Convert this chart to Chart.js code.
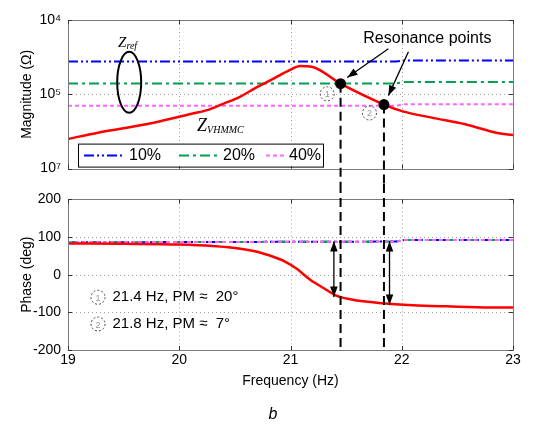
<!DOCTYPE html>
<html>
<head>
<meta charset="utf-8">
<script src="https://cdn.jsdelivr.net/npm/chart.js@4/dist/chart.umd.min.js"></script>
<style>
  html, body { margin: 0; padding: 0; background: #fff; }
  #wrap { position: relative; width: 546px; height: 428px; }
  #mag { position: absolute; left: 0; top: 0; }
  #phase { position: absolute; left: 0; top: 184px; }
</style>
</head>
<body>
<div id="wrap">
  <canvas id="mag" width="546" height="184" style="width:546px;height:184px"></canvas>
  <canvas id="phase" width="546" height="244" style="width:546px;height:244px"></canvas>
</div>
<script>
// ---- data ----
const freqTicks = [19, 20, 21, 22, 23];
const magTicks = [100, 1000, 10000];
const magTickLabels = ['10⁷', '10⁵', '10⁴'];
const phaseTicks = [-200, -100, 0, 100, 200];

// Z_VHMMC magnitude and phase
const freqMag = [19, 19.26, 19.54, 19.83, 20.11, 20.26, 20.4, 20.54, 20.69, 20.83, 20.97, 21.09, 21.19, 21.45, 21.84, 22.01, 22.28, 22.57, 22.86, 23];
const zMag = [251, 302, 357, 435, 547, 617, 750, 915, 1230, 1575, 2040, 2400, 2350, 1388, 728, 589, 482, 395, 302, 283];
const freqPh = [19, 19.5, 20, 20.3, 20.55, 20.7, 20.85, 20.95, 21.05, 21.18, 21.3, 21.4, 21.55, 21.83, 22.1, 22.4, 22.8, 23];
const zPh = [83, 82, 80, 76, 69, 61, 47, 35, 17, -14, -36, -54, -66, -76, -81, -84, -87, -87];

// Z_ref for 10%, 20%, 40%
const refLabels = ['10%', '20%', '40%'];
const freqRef = [19, 21.95, 22.02, 23];
const ref10Mag = [2760, 2760, 2860, 2860];
const ref20Mag = [1400, 1400, 1460, 1460];
const ref40Mag = [700, 700, 736, 736];
const refPh = [86, 88, 92, 92];

// resonance points and phase margins
const resFreq = [21.45, 21.84];
const resMag = [1388, 728];
const pmFreq = [21.39, 21.89];
const pmTop = [89, 89];
const pmBottom = [-59, -80];
const pmNotes = ['21.4 Hz, PM ≈  20°', '21.8 Hz, PM ≈  7°'];

// ---- styles ----
const FONT = '"Liberation Sans", Arial, sans-serif';
const SERIF = '"Liberation Serif", "Times New Roman", serif';
const refStyles = [
  { color: '#0000ff', dash: [10, 3, 2, 3, 2, 3] },
  { color: '#00a050', dash: [10, 4, 3, 4] },
  { color: '#ff66ff', dash: [4, 3] }
];
const pts = (xs, ys) => xs.map((x, i) => ({ x: x, y: ys[i] }));

function arrowHead(ctx, x1, y1, x2, y2, len) {
  const a = Math.atan2(y2 - y1, x2 - x1);
  ctx.beginPath();
  ctx.moveTo(x2, y2);
  ctx.lineTo(x2 - len * Math.cos(a - 0.35), y2 - len * Math.sin(a - 0.35));
  ctx.lineTo(x2 - len * Math.cos(a + 0.35), y2 - len * Math.sin(a + 0.35));
  ctx.closePath();
  ctx.fill();
}
function arrow(ctx, x1, y1, x2, y2, len) {
  ctx.beginPath(); ctx.moveTo(x1, y1); ctx.lineTo(x2, y2); ctx.stroke();
  arrowHead(ctx, x1, y1, x2, y2, len);
}
function dashedCircle(ctx, x, y, digit) {
  ctx.save();
  ctx.setLineDash([2, 2]);
  ctx.strokeStyle = '#444';
  ctx.lineWidth = 1;
  ctx.beginPath(); ctx.arc(x, y, 7, 0, Math.PI * 2); ctx.stroke();
  ctx.setLineDash([]);
  ctx.fillStyle = '#999';
  ctx.font = '9px ' + FONT;
  ctx.textAlign = 'center'; ctx.textBaseline = 'middle';
  ctx.fillText(digit, x, y + 1);
  ctx.restore();
}
function subLabel(ctx, main, sub, x, y, size, subSize) {
  ctx.save();
  ctx.fillStyle = '#000';
  ctx.textAlign = 'left'; ctx.textBaseline = 'alphabetic';
  ctx.font = 'italic ' + size + 'px ' + SERIF;
  ctx.fillText(main, x, y);
  const w = ctx.measureText(main).width;
  ctx.font = 'italic ' + subSize + 'px ' + SERIF;
  ctx.fillText(sub, x + w, y + 2);
  ctx.restore();
}

// dotted grid, box round the plot and inward ticks, MATLAB style
const frame = {
  id: 'frame',
  beforeDatasetsDraw(chart) {
    const { ctx, chartArea: a, scales } = chart;
    ctx.save();
    ctx.strokeStyle = '#a0a0a0';
    ctx.lineWidth = 1;
    ctx.setLineDash([1, 3]);
    freqTicks.forEach(v => {
      const x = Math.round(scales.x.getPixelForValue(v)) + 0.5;
      ctx.beginPath(); ctx.moveTo(x, a.top); ctx.lineTo(x, a.bottom); ctx.stroke();
    });
    scales.y.ticks.forEach(t => {
      const y = Math.round(scales.y.getPixelForValue(t.value)) + 0.5;
      ctx.beginPath(); ctx.moveTo(a.left, y); ctx.lineTo(a.right, y); ctx.stroke();
    });
    ctx.restore();
  },
  afterDatasetsDraw(chart) {
    const { ctx, chartArea: a, scales } = chart;
    ctx.save();
    ctx.strokeStyle = '#7a7a7a';
    ctx.lineWidth = 1;
    ctx.strokeRect(Math.round(a.left) + 0.5, Math.round(a.top) + 0.5, Math.round(a.right - a.left), Math.round(a.bottom - a.top));
    ctx.strokeStyle = '#333';
    freqTicks.forEach(v => {
      const x = Math.round(scales.x.getPixelForValue(v)) + 0.5;
      ctx.beginPath();
      ctx.moveTo(x, a.bottom); ctx.lineTo(x, a.bottom - 4);
      ctx.moveTo(x, a.top); ctx.lineTo(x, a.top + 4);
      ctx.stroke();
    });
    scales.y.ticks.forEach(t => {
      const y = Math.round(scales.y.getPixelForValue(t.value)) + 0.5;
      ctx.beginPath();
      ctx.moveTo(a.left, y); ctx.lineTo(a.left + 4, y);
      ctx.moveTo(a.right, y); ctx.lineTo(a.right - 4, y);
      ctx.stroke();
    });
    ctx.restore();
  }
};

const gridOff = { display: false, drawTicks: false };

// ---- magnitude chart ----
const magAnno = {
  id: 'magAnno',
  afterDraw(chart) {
    const { ctx, chartArea: a, scales: { x, y } } = chart;
    ctx.save();
    // vertical dashed lines from resonance points down through the gap
    ctx.strokeStyle = '#000'; ctx.lineWidth = 2; ctx.setLineDash([9, 5]);
    resFreq.forEach((f, i) => {
      const px = x.getPixelForValue(f);
      ctx.beginPath(); ctx.moveTo(px, y.getPixelForValue(resMag[i])); ctx.lineTo(px, chart.height); ctx.stroke();
    });
    ctx.setLineDash([]);
    // resonance dots
    ctx.fillStyle = '#000';
    resFreq.forEach((f, i) => {
      ctx.beginPath(); ctx.arc(x.getPixelForValue(f), y.getPixelForValue(resMag[i]), 5.5, 0, Math.PI * 2); ctx.fill();
    });
    // text and arrows
    ctx.font = '16px ' + FONT; ctx.textAlign = 'center'; ctx.textBaseline = 'middle';
    ctx.fillText('Resonance points', x.getPixelForValue(22.23), y.getPixelForValue(5690));
    ctx.lineWidth = 1.3;
    arrow(ctx, x.getPixelForValue(21.88), y.getPixelForValue(4100), x.getPixelForValue(21.51), y.getPixelForValue(1683), 11);
    arrow(ctx, x.getPixelForValue(22.06), y.getPixelForValue(3750), x.getPixelForValue(21.88), y.getPixelForValue(960), 11);
    // circled numbers
    dashedCircle(ctx, x.getPixelForValue(21.33), y.getPixelForValue(1015), '1');
    dashedCircle(ctx, x.getPixelForValue(21.71), y.getPixelForValue(560), '2');
    // ellipse round the Z_ref lines
    ctx.lineWidth = 2; ctx.strokeStyle = '#000';
    ctx.beginPath();
    ctx.ellipse(x.getPixelForValue(19.55), y.getPixelForValue(1449), 12, 30.5, 0, 0, Math.PI * 2);
    ctx.stroke();
    subLabel(ctx, 'Z', 'ref', x.getPixelForValue(19.45), y.getPixelForValue(4355), 15, 10);
    subLabel(ctx, 'Z', 'VHMMC', x.getPixelForValue(20.16), y.getPixelForValue(318), 18, 10);
    // legend box
    const bx = a.left + 10, bh = 23, by = a.bottom - bh - 2, bw = 245;
    ctx.fillStyle = '#fff';
    ctx.fillRect(bx, by, bw, bh);
    ctx.lineWidth = 1; ctx.strokeStyle = '#000';
    ctx.strokeRect(bx + 0.5, by + 0.5, bw, bh);
    const slots = [[6, 46, 51], [101, 140, 145], [188, 208, 211]];
    refLabels.forEach((lab, i) => {
      const [s0, s1, t] = slots[i];
      const ym = by + bh / 2 + 0.5;
      ctx.strokeStyle = refStyles[i].color; ctx.lineWidth = 2; ctx.setLineDash(refStyles[i].dash);
      ctx.beginPath(); ctx.moveTo(bx + s0, ym); ctx.lineTo(bx + s1, ym); ctx.stroke();
      ctx.setLineDash([]);
      ctx.fillStyle = '#000'; ctx.font = '16px ' + FONT; ctx.textAlign = 'left'; ctx.textBaseline = 'middle';
      ctx.fillText(lab, bx + t, ym);
    });
    ctx.restore();
  }
};

new Chart(document.getElementById('mag'), {
  type: 'line',
  data: {
    datasets: [
      { label: 'Z_VHMMC', data: pts(freqMag, zMag), borderColor: '#ff0000', borderWidth: 2.5, cubicInterpolationMode: 'monotone', pointRadius: 0, order: 1 },
      { label: refLabels[0], data: pts(freqRef, ref10Mag), borderColor: refStyles[0].color, borderDash: refStyles[0].dash, borderWidth: 2, pointRadius: 0, order: 4 },
      { label: refLabels[1], data: pts(freqRef, ref20Mag), borderColor: refStyles[1].color, borderDash: refStyles[1].dash, borderWidth: 2, pointRadius: 0, order: 3 },
      { label: refLabels[2], data: pts(freqRef, ref40Mag), borderColor: refStyles[2].color, borderDash: refStyles[2].dash, borderWidth: 2, pointRadius: 0, order: 2 }
    ]
  },
  options: {
    responsive: false,
    animation: false,
    layout: { padding: { top: 20, right: 33, bottom: 9, left: 0 } },
    plugins: { legend: { display: false }, tooltip: { enabled: false } },
    scales: {
      x: {
        type: 'linear', min: 19, max: 23,
        ticks: { display: false, stepSize: 1 },
        grid: gridOff, border: { display: false },
        afterFit: s => { s.height = 0; }
      },
      y: {
        type: 'logarithmic', min: 100, max: 10000,
        afterBuildTicks: s => { s.ticks = magTicks.map(v => ({ value: v })); },
        ticks: { color: '#000', padding: 7, font: { family: FONT, size: 14 },
                 callback: (v, i) => magTickLabels[i] },
        grid: gridOff, border: { display: false },
        title: { display: true, text: 'Magnitude (Ω)', color: '#000', font: { family: FONT, size: 14 }, padding: { top: 19, bottom: 0 } },
        afterFit: s => { s.width = 68; }
      }
    }
  },
  plugins: [frame, magAnno]
});

// ---- phase chart ----
const phAnno = {
  id: 'phAnno',
  afterDraw(chart) {
    const { ctx, chartArea: a, scales: { x, y } } = chart;
    ctx.save();
    ctx.strokeStyle = '#000'; ctx.lineWidth = 2; ctx.setLineDash([9, 5]);
    resFreq.forEach(f => {
      const px = x.getPixelForValue(f);
      ctx.beginPath(); ctx.moveTo(px, 0); ctx.lineTo(px, a.bottom); ctx.stroke();
    });
    ctx.setLineDash([]);
    // double-headed phase margin arrows
    ctx.lineWidth = 1.3; ctx.fillStyle = '#000';
    pmFreq.forEach((f, i) => {
      const px = x.getPixelForValue(f);
      const y1 = y.getPixelForValue(pmTop[i]), y2 = y.getPixelForValue(pmBottom[i]);
      ctx.beginPath(); ctx.moveTo(px, y1); ctx.lineTo(px, y2); ctx.stroke();
      arrowHead(ctx, px, y2, px, y1, 11);
      arrowHead(ctx, px, y1, px, y2, 11);
    });
    // notes
    const noteY = [-60, -131];
    pmNotes.forEach((t, i) => {
      dashedCircle(ctx, x.getPixelForValue(19.27), y.getPixelForValue(noteY[i]), String(i + 1));
      ctx.fillStyle = '#000'; ctx.font = '15px ' + FONT; ctx.textAlign = 'left'; ctx.textBaseline = 'middle';
      ctx.fillText(t, x.getPixelForValue(19.4), y.getPixelForValue(noteY[i]));
    });
    // panel caption
    ctx.font = 'italic 16px ' + FONT; ctx.textAlign = 'center'; ctx.textBaseline = 'middle';
    ctx.fillText('b', chart.width / 2, a.bottom + 65);
    ctx.restore();
  }
};

new Chart(document.getElementById('phase'), {
  type: 'line',
  data: {
    datasets: [
      { label: 'Z_VHMMC', data: pts(freqPh, zPh), borderColor: '#ff0000', borderWidth: 2.5, cubicInterpolationMode: 'monotone', pointRadius: 0, order: 1 },
      { label: refLabels[0], data: pts(freqRef, refPh), borderColor: refStyles[0].color, borderDash: refStyles[0].dash, borderWidth: 2, pointRadius: 0, order: 4 },
      { label: refLabels[1], data: pts(freqRef, refPh), borderColor: refStyles[1].color, borderDash: refStyles[1].dash, borderWidth: 2, pointRadius: 0, order: 3 },
      { label: refLabels[2], data: pts(freqRef, refPh), borderColor: refStyles[2].color, borderDash: refStyles[2].dash, borderWidth: 2, pointRadius: 0, order: 2 }
    ]
  },
  options: {
    responsive: false,
    animation: false,
    layout: { padding: { top: 11, right: 33, bottom: 30, left: 0 } },
    plugins: { legend: { display: false }, tooltip: { enabled: false } },
    scales: {
      x: {
        type: 'linear', min: 19, max: 23,
        afterBuildTicks: s => { s.ticks = freqTicks.map(v => ({ value: v })); },
        ticks: { color: '#000', padding: 2, autoSkip: false, maxRotation: 0, font: { family: FONT, size: 14 } },
        grid: gridOff, border: { display: false },
        title: { display: true, text: 'Frequency (Hz)', color: '#000', font: { family: FONT, size: 14 }, padding: { top: 0, bottom: 8 } },
        afterFit: s => { s.height = 48; }
      },
      y: {
        type: 'linear', min: -200, max: 200,
        afterBuildTicks: s => { s.ticks = phaseTicks.map(v => ({ value: v })); },
        ticks: { color: '#000', padding: 7, font: { family: FONT, size: 14 } },
        grid: gridOff, border: { display: false },
        title: { display: true, text: 'Phase (deg)', color: '#000', font: { family: FONT, size: 14 }, padding: { top: 19, bottom: 0 } },
        afterFit: s => { s.width = 68; }
      }
    }
  },
  plugins: [frame, phAnno]
});
</script>
</body>
</html>
